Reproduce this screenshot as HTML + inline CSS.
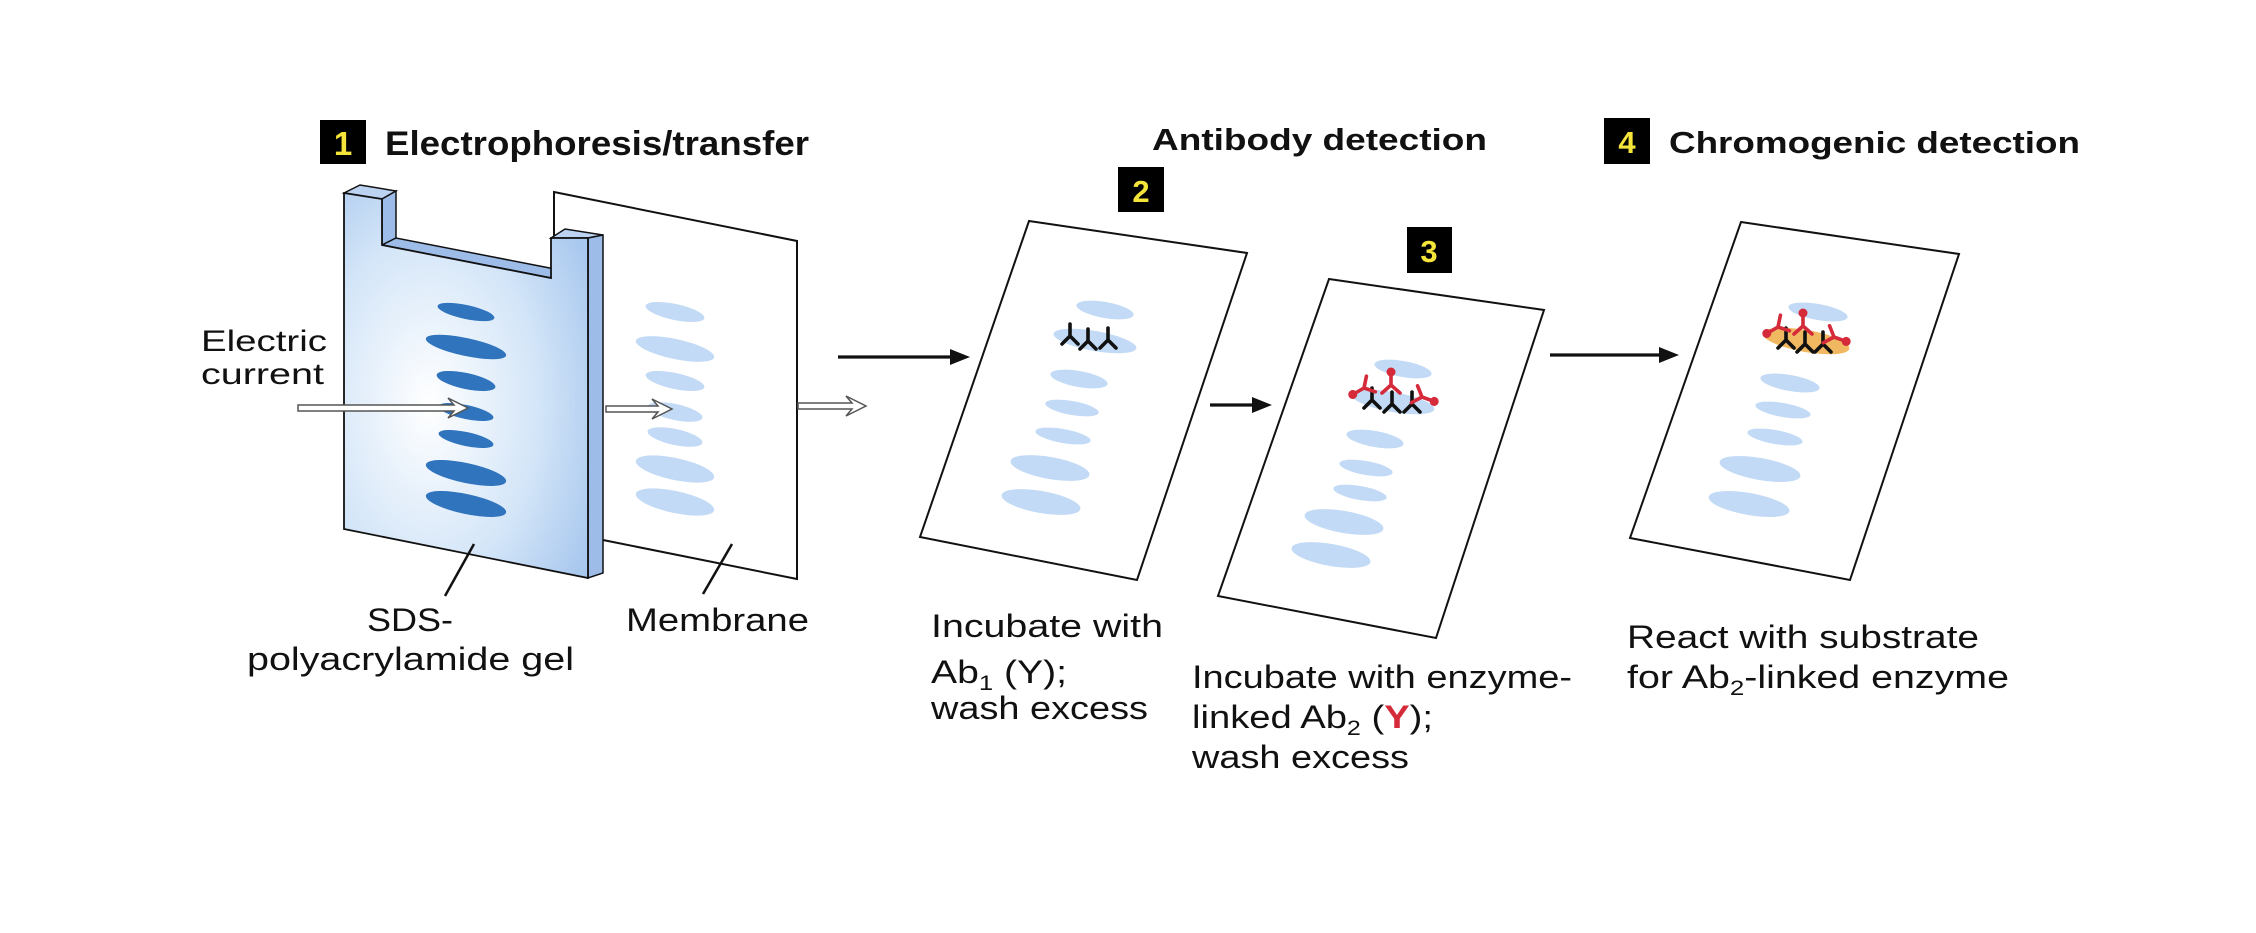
<!DOCTYPE html>
<html><head><meta charset="utf-8"><style>
html,body{margin:0;padding:0;background:#fff;}
svg{display:block;}
text{font-family:"Liberation Sans",Arial,sans-serif;fill:#111;}
.n{font-family:"Liberation Sans Narrow","Liberation Sans",sans-serif;}
</style></head><body>
<svg width="2256" height="933" viewBox="0 0 2256 933" xmlns="http://www.w3.org/2000/svg">
<defs>
<radialGradient id="gel" cx="0.35" cy="0.55" r="0.75">
<stop offset="0" stop-color="#ffffff"/><stop offset="0.6" stop-color="#d3e5f8"/><stop offset="1" stop-color="#a9c8ee"/>
</radialGradient>
<g id="abk"><path d="M0 -12 L0 0 M0 0 L-8 8 M0 0 L8 8" stroke="#111" stroke-width="3.6" fill="none" stroke-linecap="round"/></g>
<g id="abr"><path d="M0 13 L0 0 M0 0 L-9 -8 M0 0 L9 -8" stroke="#d42a3a" stroke-width="3.6" fill="none" stroke-linecap="round"/><circle cx="0" cy="13" r="4.5" fill="#d42a3a"/></g>
</defs>

<!-- Step 1 heading -->
<rect x="320" y="120" width="46" height="44" fill="#000"/>
<text x="343" y="155" font-size="33" font-weight="bold" text-anchor="middle" style="fill:#f5e53a">1</text>
<text class="n" x="385" y="155" font-size="34" font-weight="bold" textLength="424" lengthAdjust="spacingAndGlyphs">Electrophoresis/transfer</text>

<!-- Membrane 1 -->
<polygon points="554,192 797,241 797,579 603,540 554,530" fill="#fff" stroke="#111" stroke-width="2"/>
<g fill="#c2daf5">
<ellipse cx="675" cy="312" rx="30" ry="8" transform="rotate(12 675 312)"/>
<ellipse cx="675" cy="349" rx="40" ry="10" transform="rotate(12 675 349)"/>
<ellipse cx="675" cy="381" rx="30" ry="8" transform="rotate(12 675 381)"/>
<ellipse cx="675" cy="412" rx="28" ry="8" transform="rotate(12 675 412)"/>
<ellipse cx="675" cy="437" rx="28" ry="8" transform="rotate(12 675 437)"/>
<ellipse cx="675" cy="469" rx="40" ry="11" transform="rotate(12 675 469)"/>
<ellipse cx="675" cy="502" rx="40" ry="11" transform="rotate(12 675 502)"/>
</g>

<!-- Gel -->
<polygon points="344,193 360,185 396,191 382,199" fill="#bcd4f2" stroke="#111" stroke-width="1.5"/>
<polygon points="382,199 396,191 396,238 382,245" fill="#9dbde8" stroke="#111" stroke-width="1.5"/>
<polygon points="551,238 565,229 603,235 588,238" fill="#bcd4f2" stroke="#111" stroke-width="1.5"/>
<polygon points="588,238 603,235 603,573 588,578" fill="#9dbde8" stroke="#111" stroke-width="1.5"/>
<polygon points="382,245 396,238 565,271 551,278" fill="#9dbde8" stroke="#111" stroke-width="1.5"/>
<polygon points="344,193 382,199 382,245 551,278 551,238 588,238 588,578 344,529" fill="url(#gel)" stroke="#111" stroke-width="1.8"/>
<g fill="#2f74bd">
<ellipse cx="466" cy="312" rx="29" ry="7" transform="rotate(12 466 312)"/>
<ellipse cx="466" cy="347" rx="41" ry="9" transform="rotate(12 466 347)"/>
<ellipse cx="466" cy="381" rx="30" ry="8" transform="rotate(12 466 381)"/>
<ellipse cx="466" cy="412" rx="28" ry="7" transform="rotate(12 466 412)"/>
<ellipse cx="466" cy="439" rx="28" ry="7" transform="rotate(12 466 439)"/>
<ellipse cx="466" cy="473" rx="41" ry="10" transform="rotate(12 466 473)"/>
<ellipse cx="466" cy="504" rx="41" ry="10" transform="rotate(12 466 504)"/>
</g>

<!-- hollow arrows -->
<g fill="#fff" stroke="#555" stroke-width="1.5">
<polygon points="298,405 454,405 448,398 468,408 448,418 454,411 298,411"/>
<polygon points="606,406 658,406 652,399 672,409 652,419 658,412 606,412"/>
<polygon points="798,403 852,403 846,396 866,406 846,416 852,409 798,409"/>
</g>

<text class="n" x="201" y="351" font-size="30" textLength="126" lengthAdjust="spacingAndGlyphs">Electric</text>
<text class="n" x="201" y="384" font-size="30" textLength="123" lengthAdjust="spacingAndGlyphs">current</text>

<line x1="474" y1="544" x2="445" y2="596" stroke="#111" stroke-width="2.5"/>
<line x1="732" y1="544" x2="703" y2="594" stroke="#111" stroke-width="2.5"/>
<text class="n" x="367" y="631" font-size="32" textLength="86" lengthAdjust="spacingAndGlyphs">SDS-</text>
<text class="n" x="247" y="670" font-size="32" textLength="327" lengthAdjust="spacingAndGlyphs">polyacrylamide gel</text>
<text class="n" x="626" y="631" font-size="32" textLength="183" lengthAdjust="spacingAndGlyphs">Membrane</text>

<!-- black arrows -->
<g stroke="#111" stroke-width="3.2">
<line x1="838" y1="357" x2="955" y2="357"/>
<line x1="1210" y1="405" x2="1258" y2="405"/>
<line x1="1550" y1="355" x2="1665" y2="355"/>
</g>
<g fill="#111">
<polygon points="950,349 970,357 950,365"/>
<polygon points="1252,397 1272,405 1252,413"/>
<polygon points="1659,347 1679,355 1659,363"/>
</g>

<!-- Antibody detection heading -->
<text x="1152" y="150" font-size="31" font-weight="bold" textLength="335" lengthAdjust="spacingAndGlyphs">Antibody detection</text>
<rect x="1118" y="167" width="46" height="45" fill="#000"/>
<text x="1141" y="202" font-size="31" font-weight="bold" text-anchor="middle" style="fill:#f5e53a">2</text>
<rect x="1407" y="227" width="45" height="46" fill="#000"/>
<text x="1429" y="262" font-size="31" font-weight="bold" text-anchor="middle" style="fill:#f5e53a">3</text>

<!-- Membrane 2 -->
<polygon points="1029,221 1247,253 1137,580 920,537" fill="#fff" stroke="#111" stroke-width="2"/>
<g fill="#c2daf5">
<ellipse cx="1105" cy="310" rx="29" ry="8" transform="rotate(10 1105 310)"/>
<ellipse cx="1095" cy="341" rx="42" ry="10" transform="rotate(10 1095 341)"/>
<ellipse cx="1079" cy="379" rx="29" ry="8" transform="rotate(10 1079 379)"/>
<ellipse cx="1072" cy="408" rx="27" ry="7" transform="rotate(10 1072 408)"/>
<ellipse cx="1063" cy="436" rx="28" ry="7" transform="rotate(10 1063 436)"/>
<ellipse cx="1050" cy="468" rx="40" ry="11" transform="rotate(10 1050 468)"/>
<ellipse cx="1041" cy="502" rx="40" ry="11" transform="rotate(10 1041 502)"/>
</g>
<use href="#abk" x="1070" y="336"/><use href="#abk" x="1088" y="341"/><use href="#abk" x="1108" y="340"/>

<!-- Membrane 3 -->
<polygon points="1329,279 1544,310 1436,638 1218,596" fill="#fff" stroke="#111" stroke-width="2"/>
<g fill="#c2daf5">
<ellipse cx="1403" cy="369" rx="29" ry="8" transform="rotate(10 1403 369)"/>
<ellipse cx="1393" cy="402" rx="42" ry="10" transform="rotate(10 1393 402)"/>
<ellipse cx="1375" cy="439" rx="29" ry="8" transform="rotate(10 1375 439)"/>
<ellipse cx="1366" cy="468" rx="27" ry="7" transform="rotate(10 1366 468)"/>
<ellipse cx="1360" cy="493" rx="27" ry="7" transform="rotate(10 1360 493)"/>
<ellipse cx="1344" cy="522" rx="40" ry="11" transform="rotate(10 1344 522)"/>
<ellipse cx="1331" cy="555" rx="40" ry="11" transform="rotate(10 1331 555)"/>
</g>
<use href="#abk" x="1372" y="400"/><use href="#abk" x="1392" y="404"/><use href="#abk" x="1412" y="404"/>
<use href="#abr" x="1364" y="388" transform="rotate(60 1364 388)"/>
<use href="#abr" x="1391" y="385" transform="rotate(180 1391 385)"/>
<use href="#abr" x="1422" y="397" transform="rotate(-70 1422 397)"/>

<!-- Step 4 -->
<rect x="1604" y="118" width="46" height="46" fill="#000"/>
<text x="1627" y="153" font-size="31" font-weight="bold" text-anchor="middle" style="fill:#f5e53a">4</text>
<text x="1669" y="153" font-size="31" font-weight="bold" textLength="411" lengthAdjust="spacingAndGlyphs">Chromogenic detection</text>

<polygon points="1741,222 1959,254 1850,580 1630,538" fill="#fff" stroke="#111" stroke-width="2"/>
<g fill="#c2daf5">
<ellipse cx="1818" cy="312" rx="30" ry="8" transform="rotate(10 1818 312)"/>
<ellipse cx="1790" cy="383" rx="30" ry="8" transform="rotate(10 1790 383)"/>
<ellipse cx="1783" cy="410" rx="28" ry="7" transform="rotate(10 1783 410)"/>
<ellipse cx="1775" cy="437" rx="28" ry="7" transform="rotate(10 1775 437)"/>
<ellipse cx="1760" cy="469" rx="41" ry="11" transform="rotate(10 1760 469)"/>
<ellipse cx="1749" cy="504" rx="41" ry="11" transform="rotate(10 1749 504)"/>
</g>
<ellipse cx="1806" cy="341" rx="44" ry="11" transform="rotate(10 1806 341)" fill="#f0b860"/>
<use href="#abk" x="1786" y="340"/><use href="#abk" x="1805" y="344"/><use href="#abk" x="1823" y="344"/>
<use href="#abr" x="1778" y="327" transform="rotate(60 1778 327)"/>
<use href="#abr" x="1803" y="326" transform="rotate(180 1803 326)"/>
<use href="#abr" x="1834" y="337" transform="rotate(-70 1834 337)"/>

<!-- captions -->
<text x="931" y="637" font-size="32" textLength="232" lengthAdjust="spacingAndGlyphs">Incubate with</text>
<text x="931" y="683" font-size="32" textLength="136" lengthAdjust="spacingAndGlyphs">Ab<tspan font-size="21" dy="7">1</tspan><tspan dy="-7"> (Y);</tspan></text>
<text x="931" y="719" font-size="32" textLength="217" lengthAdjust="spacingAndGlyphs">wash excess</text>

<text x="1192" y="688" font-size="32" textLength="380" lengthAdjust="spacingAndGlyphs">Incubate with enzyme-</text>
<text x="1192" y="728" font-size="32" textLength="241" lengthAdjust="spacingAndGlyphs">linked Ab<tspan font-size="21" dy="7">2</tspan><tspan dy="-7"> (</tspan><tspan style="fill:#d42a3a;font-weight:bold">Y</tspan>);</text>
<text x="1192" y="768" font-size="32" textLength="217" lengthAdjust="spacingAndGlyphs">wash excess</text>

<text x="1627" y="648" font-size="32" textLength="352" lengthAdjust="spacingAndGlyphs">React with substrate</text>
<text x="1627" y="688" font-size="32" textLength="382" lengthAdjust="spacingAndGlyphs">for Ab<tspan font-size="21" dy="7">2</tspan><tspan dy="-7">-linked enzyme</tspan></text>
</svg>
</body></html>
